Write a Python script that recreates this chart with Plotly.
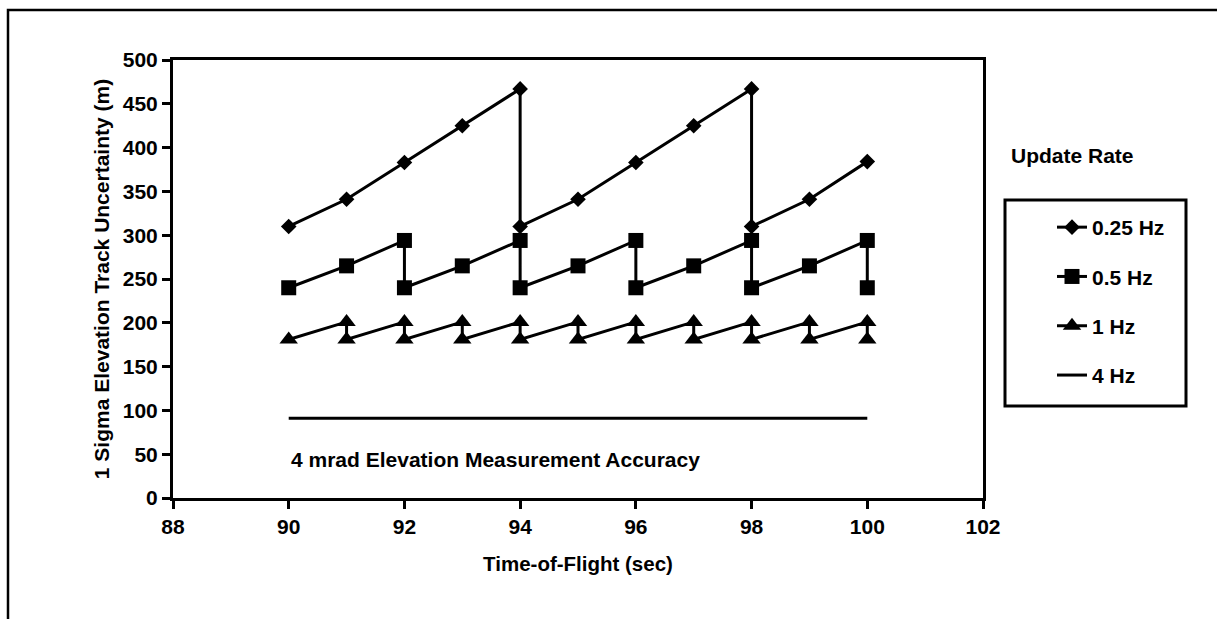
import plotly.graph_objects as go

# ---- data ----
time_025hz = [90, 91, 92, 93, 94, 94, 95, 96, 97, 98, 98, 99, 100]
unc_025hz = [310, 341, 383, 425, 467, 310, 341, 383, 425, 467, 310, 341, 384]

time_05hz = [90, 91, 92, 92, 93, 94, 94, 95, 96, 96, 97, 98, 98, 99, 100, 100]
unc_05hz = [240, 265, 294, 240, 265, 294, 240, 265, 294, 240, 265, 294, 240, 265, 294, 240]

time_1hz = [90, 91, 91, 92, 92, 93, 93, 94, 94, 95, 95, 96, 96, 97, 97, 98, 98, 99, 99, 100, 100]
unc_1hz = [181, 201, 181, 201, 181, 201, 181, 201, 181, 201, 181, 201, 181, 201, 181, 201, 181, 201, 181, 201, 181]

time_4hz = [90, 91, 92, 93, 94, 95, 96, 97, 98, 99, 100]
unc_4hz = [91, 91, 91, 91, 91, 91, 91, 91, 91, 91, 91]

series_names = ["0.25 Hz", "0.5 Hz", "1 Hz", "4 Hz"]
x_ticks = [88, 90, 92, 94, 96, 98, 100, 102]
y_ticks = [0, 50, 100, 150, 200, 250, 300, 350, 400, 450, 500]

# ---- layout geometry (pixels) ----
W, H = 1217, 619
PL, PR, PT, PB = 173, 983, 60, 498


def px_x(p):
    return (p - PL) / (PR - PL)


def px_y(p):
    return (PB - p) / (PB - PT)


FONT = "Liberation Sans, Arial, sans-serif"
BLACK = "#000000"
FS = 21

fig = go.Figure()
fig.add_trace(go.Scatter(x=time_025hz, y=unc_025hz, name=series_names[0], mode="lines+markers",
                         legendgroup="a",
                         line=dict(color=BLACK, width=3),
                         marker=dict(symbol="diamond", size=12, color=BLACK)))
fig.add_trace(go.Scatter(x=time_05hz, y=unc_05hz, name=series_names[1], mode="lines+markers",
                         legendgroup="b",
                         line=dict(color=BLACK, width=3),
                         marker=dict(symbol="square", size=15, color=BLACK)))
fig.add_trace(go.Scatter(x=time_1hz, y=unc_1hz, name=series_names[2], mode="lines+markers",
                         legendgroup="c",
                         line=dict(color=BLACK, width=3),
                         marker=dict(symbol="triangle-up", size=16, color=BLACK)))
fig.add_trace(go.Scatter(x=time_4hz, y=unc_4hz, name=series_names[3], mode="lines",
                         legendgroup="d",
                         line=dict(color=BLACK, width=3)))

fig.update_layout(
    width=W, height=H,
    margin=dict(l=PL, r=W - PR, t=PT, b=H - PB, pad=0),
    paper_bgcolor="white", plot_bgcolor="white",
    font=dict(family=FONT, size=FS, color=BLACK, weight="bold"),
    showlegend=True,
    legend=dict(x=px_x(1052), y=px_y(207), xanchor="left", yanchor="top",
                bgcolor="rgba(0,0,0,0)", borderwidth=0,
                tracegroupgap=19, font=dict(size=FS, weight="bold")),
    xaxis=dict(range=[88, 102], tickvals=x_ticks, ticktext=[str(v) for v in x_ticks],
               showgrid=False, zeroline=False, showline=True, linecolor=BLACK, linewidth=3,
               mirror=True, ticks="outside", ticklen=8, tickwidth=3, tickcolor=BLACK,
               tickfont=dict(size=FS, weight="bold"),
               title=dict(text="Time-of-Flight (sec)", standoff=20,
                          font=dict(size=20.5, weight="bold"))),
    yaxis=dict(range=[0, 500], tickvals=y_ticks, ticktext=[str(v) for v in y_ticks],
               showgrid=False, zeroline=False, showline=True, linecolor=BLACK, linewidth=3,
               mirror=True, ticks="outside", ticklen=8, tickwidth=3, tickcolor=BLACK,
               tickfont=dict(size=FS, weight="bold"),
               title=dict(text="1 Sigma Elevation Track Uncertainty (m)", standoff=8,
                          font=dict(size=21, weight="bold"))),
    shapes=[
        # outer chart frame (only top and left visible)
        dict(type="rect", xref="paper", yref="paper",
             x0=px_x(8), x1=px_x(1240), y0=px_y(640), y1=px_y(10),
             line=dict(color=BLACK, width=2.5), fillcolor="rgba(0,0,0,0)", layer="below"),
        # legend box
        dict(type="rect", xref="paper", yref="paper",
             x0=px_x(1005), x1=px_x(1186), y0=px_y(406), y1=px_y(200),
             line=dict(color=BLACK, width=3), fillcolor="rgba(0,0,0,0)"),
    ],
    annotations=[
        dict(text="Update Rate", xref="paper", yref="paper", x=px_x(1009), y=px_y(155),
             xanchor="left", yanchor="middle", showarrow=False,
             font=dict(size=FS, weight="bold")),
        dict(text="4 mrad Elevation Measurement Accuracy", xref="x", yref="y", x=90.0, y=44,
             xanchor="left", yanchor="middle", showarrow=False,
             font=dict(size=FS, weight="bold")),
    ],
)

fig.write_html("out.html")
